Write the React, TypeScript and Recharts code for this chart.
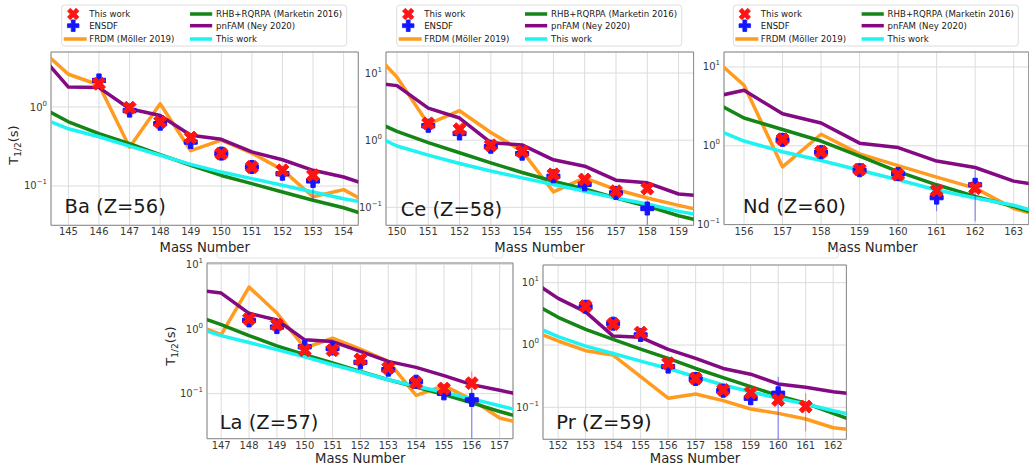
import React from 'react';
import { ComposedChart, Line, Scatter, XAxis, YAxis, CartesianGrid, ErrorBar, ReferenceArea } from 'recharts';

// ---------- Ba (Z=56) ----------
const BA_A = [144, 145, 146, 147, 148, 149, 150, 151, 152, 153, 154, 155];
const BA_FRDM = [5.8, 2.6, 1.9, 0.31, 1.1, 0.28, 0.38, 0.26, 0.16, 0.073, 0.09, 0.055];
const BA_RHB = [1.04, 0.65, 0.46, 0.344, 0.25, 0.183, 0.136, 0.107, 0.084, 0.066, 0.053, 0.04];
const BA_PNFAM = [4.97, 1.79, 1.76, 0.95, 0.78, 0.44, 0.39, 0.27, 0.215, 0.158, 0.13, 0.097];
const BA_CALC = [0.75, 0.53, 0.42, 0.32, 0.245, 0.188, 0.15, 0.124, 0.102, 0.084, 0.069, 0.059];
const BA_THIS_A = [146, 147, 148, 149, 150, 151, 152, 153];
const BA_THIS = [1.97, 0.98, 0.646, 0.41, 0.257, 0.174, 0.158, 0.137];
const BA_THIS_ERR = [null, null, null, null, null, null, null, null];
const BA_ENSDF_A = [146, 147, 148, 149, 150, 151, 152, 153];
const BA_ENSDF = [2.17, 0.9, 0.615, 0.36, 0.257, 0.174, 0.143, 0.116];
const BA_ENSDF_ERR = [null, null, null, null, null, null, null, [0.05, 0.02]];
const BA_XTICKS = [145, 146, 147, 148, 149, 150, 151, 152, 153, 154];

// ---------- Ce (Z=58) ----------
const CE_A = [149, 150, 151, 152, 153, 154, 155, 156, 157, 158, 159, 160];
const CE_FRDM = [27.5, 8.7, 1.74, 2.75, 1.3, 0.69, 0.17, 0.275, 0.184, 0.138, 0.107, 0.085];
const CE_RHB = [2.2, 1.35, 0.92, 0.65, 0.46, 0.33, 0.245, 0.188, 0.138, 0.104, 0.075, 0.058];
const CE_PNFAM = [7.3, 6.5, 3.0, 2.14, 0.92, 0.85, 0.51, 0.41, 0.254, 0.232, 0.158, 0.146];
const CE_CALC = [1.35, 0.82, 0.6, 0.45, 0.347, 0.275, 0.219, 0.174, 0.138, 0.112, 0.087, 0.073];
const CE_THIS_A = [151, 152, 153, 154, 155, 156, 157, 158];
const CE_THIS = [1.78, 1.46, 0.84, 0.68, 0.31, 0.26, 0.174, 0.19];
const CE_THIS_ERR = [null, null, null, null, null, null, null, null];
const CE_ENSDF_A = [151, 152, 153, 154, 155, 156, 157, 158];
const CE_ENSDF = [1.64, 1.26, 0.8, 0.63, 0.29, 0.22, 0.164, 0.096];
const CE_ENSDF_ERR = [null, null, null, null, null, null, null, [0.041, 0.03]];
const CE_XTICKS = [150, 151, 152, 153, 154, 155, 156, 157, 158, 159];

// ---------- Nd (Z=60) ----------
const ND_A = [155, 156, 157, 158, 159, 160, 161, 162, 163, 164];
const ND_FRDM = [16, 5.86, 0.54, 1.4, 0.79, 0.56, 0.4, 0.29, 0.16, 0.117];
const ND_RHB = [4.1, 2.25, 1.61, 1.15, 0.74, 0.47, 0.32, 0.228, 0.17, 0.117];
const ND_PNFAM = [3.96, 5.07, 2.55, 1.95, 1.08, 0.95, 0.64, 0.53, 0.356, 0.3];
const ND_CALC = [1.82, 1.15, 0.84, 0.65, 0.49, 0.37, 0.275, 0.217, 0.176, 0.128];
const ND_THIS_A = [157, 158, 159, 160, 161, 162];
const ND_THIS = [1.21, 0.84, 0.5, 0.43, 0.27, 0.29];
const ND_THIS_ERR = [null, null, null, null, null, null];
const ND_ENSDF_A = [157, 158, 159, 160, 161, 162];
const ND_ENSDF = [1.19, 0.83, 0.49, 0.44, 0.22, 0.32];
const ND_ENSDF_ERR = [null, null, null, null, [0.072, 0.1], [0.21, 0.17]];
const ND_XTICKS = [156, 157, 158, 159, 160, 161, 162, 163];

// ---------- La (Z=57) ----------
const LA_A = [146, 147, 148, 149, 150, 151, 152, 153, 154, 155, 156, 157, 158];
const LA_FRDM = [1.2, 0.82, 4.45, 1.77, 0.51, 0.72, 0.49, 0.316, 0.094, 0.133, 0.081, 0.042, 0.033];
const LA_RHB = [1.66, 1.17, 0.79, 0.55, 0.4, 0.3, 0.22, 0.164, 0.127, 0.097, 0.072, 0.053, 0.04];
const LA_PNFAM = [4.1, 3.6, 1.75, 1.38, 0.68, 0.64, 0.45, 0.316, 0.255, 0.19, 0.138, 0.113, 0.091];
const LA_CALC = [1.07, 0.79, 0.62, 0.48, 0.37, 0.28, 0.216, 0.164, 0.13, 0.105, 0.083, 0.065, 0.051];
const LA_THIS_A = [148, 149, 150, 151, 152, 153, 154, 155, 156];
const LA_THIS = [1.43, 1.17, 0.47, 0.47, 0.34, 0.25, 0.148, 0.12, 0.145];
const LA_THIS_ERR = [null, null, null, null, null, null, null, null, [0.045, 0.075]];
const LA_ENSDF_A = [148, 149, 150, 151, 152, 153, 154, 155, 156];
const LA_ENSDF = [1.36, 1.07, 0.53, 0.5, 0.305, 0.235, 0.153, 0.101, 0.08];
const LA_ENSDF_ERR = [null, null, null, null, null, null, null, null, [0.0598, 0.04]];
const LA_XTICKS = [147, 148, 149, 150, 151, 152, 153, 154, 155, 156, 157];

// ---------- Pr (Z=59) ----------
const PR_A = [151, 152, 153, 154, 155, 156, 157, 158, 159, 160, 161, 162, 163];
const PR_FRDM = [1.74, 1.16, 0.81, 0.69, 0.31, 0.14, 0.164, 0.128, 0.094, 0.08, 0.065, 0.047, 0.042];
const PR_RHB = [4.95, 2.78, 1.78, 1.23, 0.86, 0.61, 0.42, 0.3, 0.215, 0.154, 0.116, 0.08, 0.055];
const PR_PNFAM = [11, 5.6, 3.4, 1.39, 1.33, 0.85, 0.61, 0.42, 0.34, 0.237, 0.21, 0.178, 0.158];
const PR_CALC = [2.1, 1.36, 0.96, 0.73, 0.55, 0.42, 0.31, 0.228, 0.178, 0.14, 0.113, 0.088, 0.071];
const PR_THIS_A = [153, 154, 155, 156, 157, 158, 159, 160, 161];
const PR_THIS = [4.2, 2.17, 1.58, 0.51, 0.29, 0.19, 0.172, 0.131, 0.103];
const PR_THIS_ERR = [null, null, null, null, null, null, null, null, [0.062, 0.065]];
const PR_ENSDF_A = [153, 154, 155, 156, 157, 158, 159, 160];
const PR_ENSDF = [4.1, 2.2, 1.45, 0.45, 0.285, 0.185, 0.14, 0.168];
const PR_ENSDF_ERR = [null, null, null, null, null, null, null, [0.137, 0.14]];
const PR_XTICKS = [152, 153, 154, 155, 156, 157, 158, 159, 160, 161, 162];

const Y_DECADES = [0.1, 1, 10];

const LEGEND_LEFT_COL = ['This work', 'ENSDF', 'FRDM (Möller 2019)'];
const LEGEND_RIGHT_COL = ['RHB+RQRPA (Marketin 2016)', 'pnFAM (Ney 2020)', 'This work'];

const C_FRDM = '#ff9b1f';
const C_RHB = '#158515';
const C_PNFAM = '#830a83';
const C_CALC = '#1ef2f2';
const C_RED = '#ff1414';
const C_BLUE = '#1414ff';
const FONT = "'DejaVu Sans', sans-serif";

type Panel = {
  name: string;
  box: { x0: number; y0: number; x1: number; y1: number };
  xDomain: [number, number];
  yDomain: [number, number];
  A: number[];
  frdm: number[];
  rhb: number[];
  pnfam: number[];
  calc: number[];
  thisA: number[];
  thisV: number[];
  thisErr: any[];
  ensA: number[];
  ensV: number[];
  ensErr: any[];
  xticks: number[];
};

const PANELS: Panel[] = [
  {
    name: 'Ba', box: { x0: 51, y0: 51.7, x1: 358.3, y1: 225 }, xDomain: [144.43, 154.48], yDomain: [0.0318, 4.97],
    A: BA_A, frdm: BA_FRDM, rhb: BA_RHB, pnfam: BA_PNFAM, calc: BA_CALC,
    thisA: BA_THIS_A, thisV: BA_THIS, thisErr: BA_THIS_ERR, ensA: BA_ENSDF_A, ensV: BA_ENSDF, ensErr: BA_ENSDF_ERR, xticks: BA_XTICKS,
  },
  {
    name: 'Ce', box: { x0: 385.7, y0: 51.7, x1: 693.3, y1: 225 }, xDomain: [149.65, 159.48], yDomain: [0.054, 20.6],
    A: CE_A, frdm: CE_FRDM, rhb: CE_RHB, pnfam: CE_PNFAM, calc: CE_CALC,
    thisA: CE_THIS_A, thisV: CE_THIS, thisErr: CE_THIS_ERR, ensA: CE_ENSDF_A, ensV: CE_ENSDF, ensErr: CE_ENSDF_ERR, xticks: CE_XTICKS,
  },
  {
    name: 'Nd', box: { x0: 723.8, y0: 51.7, x1: 1028.5, y1: 224.3 }, xDomain: [155.48, 163.39], yDomain: [0.1, 15.5],
    A: ND_A, frdm: ND_FRDM, rhb: ND_RHB, pnfam: ND_PNFAM, calc: ND_CALC,
    thisA: ND_THIS_A, thisV: ND_THIS, thisErr: ND_THIS_ERR, ensA: ND_ENSDF_A, ensV: ND_ENSDF, ensErr: ND_ENSDF_ERR, xticks: ND_XTICKS,
  },
  {
    name: 'La', box: { x0: 207.3, y0: 263.3, x1: 513.3, y1: 439 }, xDomain: [146.49, 157.48], yDomain: [0.0201, 10.5],
    A: LA_A, frdm: LA_FRDM, rhb: LA_RHB, pnfam: LA_PNFAM, calc: LA_CALC,
    thisA: LA_THIS_A, thisV: LA_THIS, thisErr: LA_THIS_ERR, ensA: LA_ENSDF_A, ensV: LA_ENSDF, ensErr: LA_ENSDF_ERR, xticks: LA_XTICKS,
  },
  {
    name: 'Pr', box: { x0: 543.3, y0: 265, x1: 846.7, y1: 439.3 }, xDomain: [151.45, 162.48], yDomain: [0.0307, 19.2],
    A: PR_A, frdm: PR_FRDM, rhb: PR_RHB, pnfam: PR_PNFAM, calc: PR_CALC,
    thisA: PR_THIS_A, thisV: PR_THIS, thisErr: PR_THIS_ERR, ensA: PR_ENSDF_A, ensV: PR_ENSDF, ensErr: PR_ENSDF_ERR, xticks: PR_XTICKS,
  },
];

// matplotlib filled marker outlines
const X_PTS = [[-1, -2], [0, -1], [1, -2], [2, -1], [1, 0], [2, 1], [1, 2], [0, 1], [-1, 2], [-2, 1], [-1, 0], [-2, -1]];
const P_PTS = [[-1, -3], [1, -3], [1, -1], [3, -1], [3, 1], [1, 1], [1, 3], [-1, 3], [-1, 1], [-3, 1], [-3, -1], [-1, -1]];

function markerPath(pts: number[][], div: number, cx: number, cy: number, size: number) {
  return pts.map((p, i) => `${i === 0 ? 'M' : 'L'}${(cx + (p[0] / div) * size).toFixed(2)},${(cy + (p[1] / div) * size).toFixed(2)}`).join(' ') + ' Z';
}

const XShape = (props: any) => {
  const { cx, cy } = props;
  if (cx == null || cy == null || isNaN(cx) || isNaN(cy)) return <g />;
  return <path d={markerPath(X_PTS, 4, cx, cy, 13)} fill={C_RED} stroke={C_RED} strokeWidth={1} />;
};
const PShape = (props: any) => {
  const { cx, cy } = props;
  if (cx == null || cy == null || isNaN(cx) || isNaN(cy)) return <g />;
  return <path d={markerPath(P_PTS, 6, cx, cy, 13)} fill={C_BLUE} stroke={C_BLUE} strokeWidth={1} />;
};

const LogTick = (props: any) => {
  const { x, y, payload } = props;
  const e = Math.round(Math.log10(payload.value));
  const exp = e < 0 ? '\u2212' + Math.abs(e) : String(e);
  return (
    <text x={x} y={y} textAnchor="end" fontSize={10} fill="#3a3a3a" fontFamily={FONT}>
      <tspan dy={3.5}>10</tspan>
      <tspan fontSize={7} dy={-5}>{exp}</tspan>
    </text>
  );
};

const YW = 40;
const MT = 5;
const MR = 5;
const XH = 20;

function PanelChart({ p }: { p: Panel }) {
  const rows = p.A.map((a, i) => ({ A: a, frdm: p.frdm[i], rhb: p.rhb[i], pnfam: p.pnfam[i], calc: p.calc[i] }));
  const thisData = p.thisA.map((a, i) => ({ A: a, v: p.thisV[i], err: p.thisErr[i] || undefined }));
  const ensData = p.ensA.map((a, i) => ({ A: a, v: p.ensV[i], err: p.ensErr[i] || undefined }));
  const yticks = Y_DECADES.filter((t) => t >= p.yDomain[0] && t <= p.yDomain[1]);
  const pw = p.box.x1 - p.box.x0;
  const ph = p.box.y1 - p.box.y0;
  return (
    <div style={{ position: 'absolute', left: p.box.x0 - YW, top: p.box.y0 - MT }}>
      <ComposedChart width={pw + YW + MR} height={ph + MT + XH} data={rows} margin={{ top: MT, right: MR, bottom: 0, left: 0 }}>
        <CartesianGrid stroke="#dcdcdc" strokeWidth={1} />
        <XAxis
          type="number" dataKey="A" domain={p.xDomain} allowDataOverflow ticks={p.xticks} interval={0}
          tickLine={false} axisLine={false} tickSize={0} tickMargin={3} height={XH}
          tick={{ fontSize: 10, fill: '#3a3a3a', fontFamily: FONT }}
        />
        <YAxis
          type="number" scale="log" domain={p.yDomain} allowDataOverflow ticks={yticks} interval={0}
          tickLine={false} axisLine={false} tickSize={0} tickMargin={4} width={YW}
          tick={(tp: any) => <LogTick {...tp} />}
        />
        <Line dataKey="frdm" stroke={C_FRDM} strokeWidth={3.5} dot={false} isAnimationActive={false} strokeLinejoin="round" />
        <Line dataKey="rhb" stroke={C_RHB} strokeWidth={3.5} dot={false} isAnimationActive={false} strokeLinejoin="round" />
        <Line dataKey="pnfam" stroke={C_PNFAM} strokeWidth={3.5} dot={false} isAnimationActive={false} strokeLinejoin="round" />
        <Line dataKey="calc" stroke={C_CALC} strokeWidth={3.5} dot={false} isAnimationActive={false} strokeLinejoin="round" />
        <Scatter data={ensData} dataKey="v" shape={PShape} isAnimationActive={false}>
          <ErrorBar dataKey="err" direction="y" width={0} stroke={C_BLUE} strokeWidth={1} strokeOpacity={0.55} />
        </Scatter>
        <Scatter data={thisData} dataKey="v" shape={XShape} isAnimationActive={false}>
          <ErrorBar dataKey="err" direction="y" width={0} stroke={C_RED} strokeWidth={1} strokeOpacity={0.5} />
        </Scatter>
        <ReferenceArea
          x1={p.xDomain[0]} x2={p.xDomain[1]} y1={p.yDomain[0]} y2={p.yDomain[1]}
          fill="none" fillOpacity={0} stroke="#8a8a8a" strokeWidth={1} ifOverflow="visible"
        />
      </ComposedChart>
    </div>
  );
}

function LegendBox({ left }: { left: number }) {
  const top = 5;
  const rows = [top + 9, top + 20.7, top + 34];
  const tx1 = left + 27.5;
  const tx2 = left + 154.3;
  const fs = 8.6;
  const lineKeys = [C_RHB, C_PNFAM, C_CALC];
  return (
    <g>
      <rect x={left} y={top} width={285} height={41} rx={3} fill="#fff" stroke="#d4d4d4" strokeWidth={0.8} />
      <path d={markerPath(X_PTS, 4, left + 11.5, rows[0], 11.5)} fill={C_RED} stroke={C_RED} strokeWidth={0.8} />
      <path d={markerPath(P_PTS, 6, left + 11.5, rows[1], 11.5)} fill={C_BLUE} stroke={C_BLUE} strokeWidth={0.8} />
      <line x1={left + 2} x2={left + 25} y1={rows[2]} y2={rows[2]} stroke={C_FRDM} strokeWidth={3.5} />
      {LEGEND_LEFT_COL.map((t, i) => (
        <text key={'l' + i} x={tx1} y={rows[i]} dy={3.1} fontSize={fs} fill="#1a1a1a" fontFamily={FONT}>{t}</text>
      ))}
      {lineKeys.map((c, i) => (
        <line key={'k' + i} x1={left + 128.3} x2={left + 150.5} y1={rows[i]} y2={rows[i]} stroke={c} strokeWidth={3.5} />
      ))}
      {LEGEND_RIGHT_COL.map((t, i) => (
        <text key={'r' + i} x={tx2} y={rows[i]} dy={3.1} fontSize={fs} fill="#1a1a1a" fontFamily={FONT}>{t}</text>
      ))}
    </g>
  );
}

function HiddenLegendEdge({ left }: { left: number }) {
  const right = left + 286;
  const b = 258;
  return (
    <path
      d={`M${left},249 L${left},${b - 3} Q${left},${b} ${left + 3},${b} L${right - 3},${b} Q${right},${b} ${right},${b - 3} L${right},249`}
      fill="none" stroke="#e4e4e4" strokeWidth={1}
    />
  );
}

function YLabel({ x, y }: { x: number; y: number }) {
  return (
    <text transform={`translate(${x},${y}) rotate(-90)`} textAnchor="middle" fontSize={13} fill="#262626" fontFamily={FONT}>
      T<tspan fontSize={9} dy={3}>1/2</tspan><tspan dy={-3}>(s)</tspan>
    </text>
  );
}

const PANEL_LABELS = [
  { t: 'Ba (Z=56)', x: 64.5, y: 213.3 },
  { t: 'Ce (Z=58)', x: 400.7, y: 215.5 },
  { t: 'Nd (Z=60)', x: 743, y: 212.7 },
  { t: 'La (Z=57)', x: 219.7, y: 429 },
  { t: 'Pr (Z=59)', x: 556.3, y: 429.3 },
];

const XLABELS = [
  { x: 204.7, y: 251.5 },
  { x: 539.5, y: 251.5 },
  { x: 872.5, y: 251.5 },
  { x: 360.3, y: 462.8 },
  { x: 695, y: 462.8 },
];

export default function App() {
  return (
    <div style={{ position: 'absolute', left: 0, top: 0, width: 1029, height: 466, overflow: 'hidden', background: '#fff', fontFamily: FONT }}>
      <svg width={1029} height={466} style={{ position: 'absolute', left: 0, top: 0 }}>
        <HiddenLegendEdge left={217} />
        <HiddenLegendEdge left={552.5} />
      </svg>
      {PANELS.map((p) => (
        <PanelChart key={p.name} p={p} />
      ))}
      <svg width={1029} height={466} style={{ position: 'absolute', left: 0, top: 0, pointerEvents: 'none' }}>
        <LegendBox left={61.7} />
        <LegendBox left={396.7} />
        <LegendBox left={733.3} />
        {PANEL_LABELS.map((l) => (
          <text key={l.t} x={l.x} y={l.y} fontSize={19.5} fill="#1a1a1a" fontFamily={FONT}>{l.t}</text>
        ))}
        {XLABELS.map((l, i) => (
          <text key={'xl' + i} x={l.x} y={l.y} textAnchor="middle" fontSize={13.2} fill="#262626" fontFamily={FONT}>Mass Number</text>
        ))}
        <YLabel x={18.3} y={145} />
        <YLabel x={175} y={346} />
      </svg>
    </div>
  );
}
